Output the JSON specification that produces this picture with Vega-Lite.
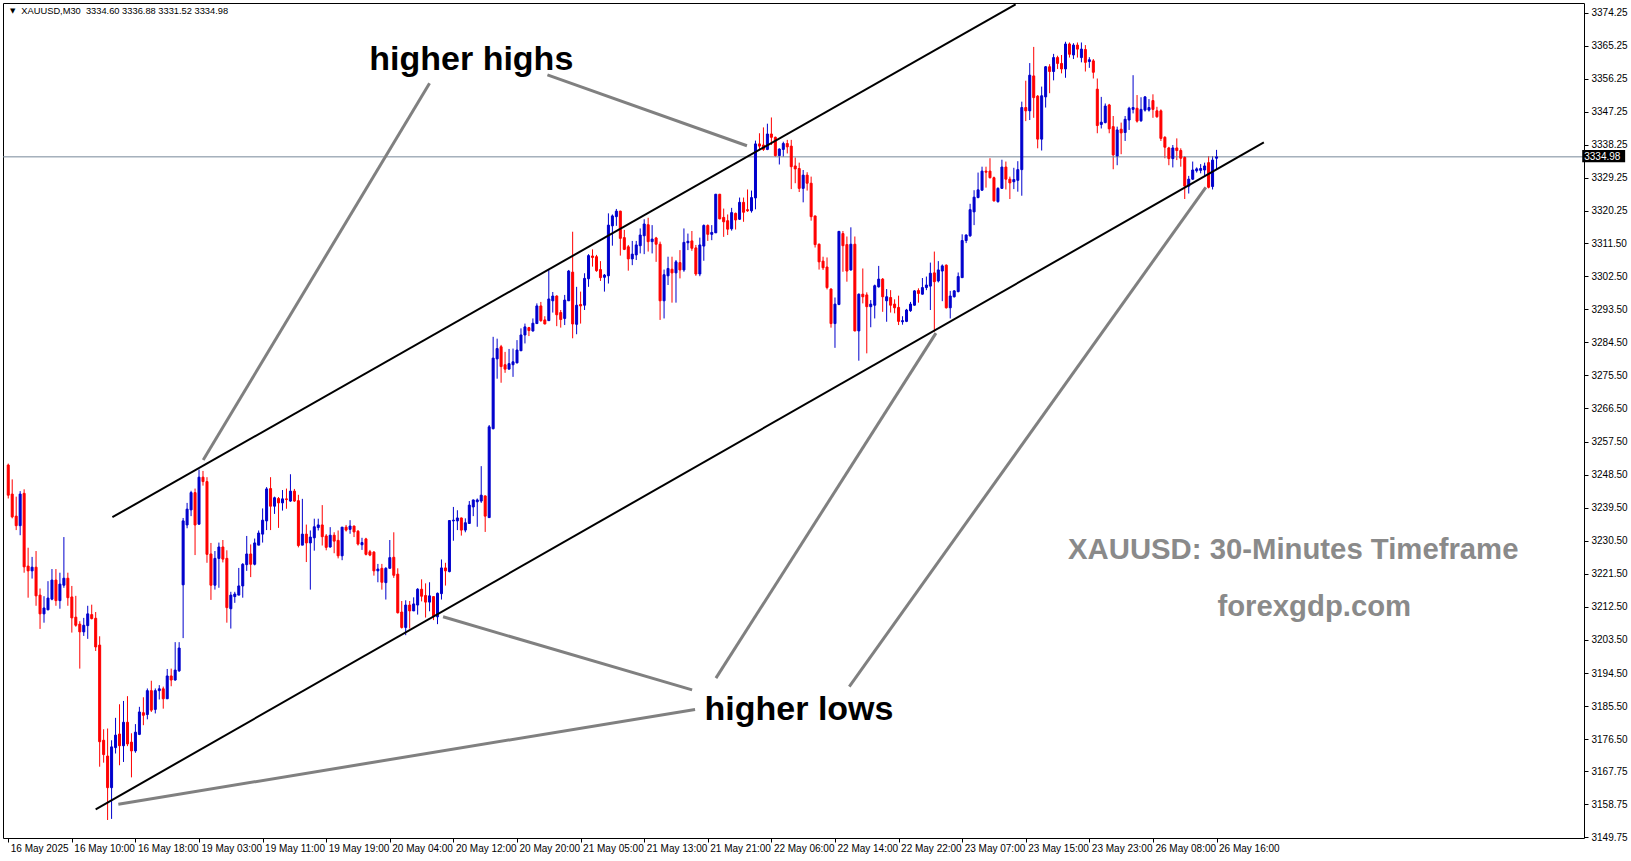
{
"$schema": "https://vega.github.io/schema/vega-lite/v6.json",
"width": 1581, "height": 835,
"autosize": {"type": "none"},
"padding": {"left": 3, "top": 3, "right": 47, "bottom": 23},
"background": "white",
"config": {
"view": {"stroke": "black", "strokeWidth": 1},
"axis": {"grid": false, "domain": false, "title": null, "labelOverlap": false, "labelBound": false, "labelFlush": false, "tickColor": "black", "tickSize": 4, "labelFont": "Liberation Sans", "labelFontSize": 10, "labelColor": "black"},
"axisY": {"labelOverlap": false, "labelPadding": 3, "labelSeparation": 0},
"axisX": {"labelOverlap": false, "labelPadding": 1}
},
"datasets": {
"candles": [
{"i":0,"o":3251.1,"h":3251.5,"l":3242.0,"c":3242.9},
{"i":1,"o":3243.2,"h":3247.2,"l":3236.6,"c":3237.0},
{"i":2,"o":3237.2,"h":3242.5,"l":3233.4,"c":3234.6},
{"i":3,"o":3234.6,"h":3244.0,"l":3232.0,"c":3243.2},
{"i":4,"o":3243.4,"h":3244.5,"l":3221.8,"c":3223.4},
{"i":5,"o":3223.6,"h":3228.6,"l":3215.0,"c":3222.3},
{"i":6,"o":3222.3,"h":3226.1,"l":3220.2,"c":3223.3},
{"i":7,"o":3223.3,"h":3227.7,"l":3212.8,"c":3215.5},
{"i":8,"o":3215.7,"h":3217.5,"l":3206.5,"c":3210.6},
{"i":9,"o":3210.6,"h":3215.4,"l":3208.2,"c":3212.2},
{"i":10,"o":3211.7,"h":3219.5,"l":3211.6,"c":3214.9},
{"i":11,"o":3214.6,"h":3222.8,"l":3214.3,"c":3219.8},
{"i":12,"o":3219.8,"h":3222.8,"l":3212.8,"c":3214.2},
{"i":13,"o":3214.2,"h":3221.8,"l":3212.0,"c":3218.7},
{"i":14,"o":3218.4,"h":3231.5,"l":3217.7,"c":3220.3},
{"i":15,"o":3220.3,"h":3221.8,"l":3212.8,"c":3215.0},
{"i":16,"o":3215.2,"h":3218.2,"l":3205.5,"c":3209.5},
{"i":17,"o":3209.7,"h":3215.5,"l":3207.1,"c":3207.5},
{"i":18,"o":3207.8,"h":3208.6,"l":3195.7,"c":3205.7},
{"i":19,"o":3205.7,"h":3209.5,"l":3204.6,"c":3207.5},
{"i":20,"o":3207.4,"h":3212.8,"l":3203.8,"c":3210.6},
{"i":21,"o":3210.4,"h":3213.1,"l":3209.1,"c":3209.3},
{"i":22,"o":3209.4,"h":3211.1,"l":3200.5,"c":3201.6},
{"i":23,"o":3202.1,"h":3204.5,"l":3169.0,"c":3175.8},
{"i":24,"o":3176.2,"h":3179.2,"l":3170.1,"c":3172.3},
{"i":25,"o":3171.9,"h":3179.4,"l":3154.5,"c":3163.3},
{"i":26,"o":3163.3,"h":3176.2,"l":3154.8,"c":3174.4},
{"i":27,"o":3174.2,"h":3182.3,"l":3172.6,"c":3177.6},
{"i":28,"o":3177.9,"h":3186.0,"l":3169.4,"c":3174.7},
{"i":29,"o":3174.7,"h":3186.9,"l":3170.3,"c":3181.1},
{"i":30,"o":3181.1,"h":3188.2,"l":3174.6,"c":3175.2},
{"i":31,"o":3175.7,"h":3178.1,"l":3166.1,"c":3173.3},
{"i":32,"o":3173.3,"h":3180.6,"l":3172.8,"c":3178.4},
{"i":33,"o":3177.8,"h":3185.3,"l":3177.6,"c":3183.9},
{"i":34,"o":3183.7,"h":3187.9,"l":3180.3,"c":3183.0},
{"i":35,"o":3183.2,"h":3190.3,"l":3181.9,"c":3189.7},
{"i":36,"o":3189.7,"h":3192.4,"l":3183.9,"c":3184.4},
{"i":37,"o":3184.6,"h":3190.3,"l":3183.5,"c":3189.7},
{"i":38,"o":3189.7,"h":3191.2,"l":3187.3,"c":3190.2},
{"i":39,"o":3190.2,"h":3190.8,"l":3184.8,"c":3187.5},
{"i":40,"o":3187.5,"h":3195.6,"l":3187.4,"c":3193.7},
{"i":41,"o":3193.7,"h":3195.7,"l":3190.9,"c":3192.6},
{"i":42,"o":3192.6,"h":3202.9,"l":3192.4,"c":3195.3},
{"i":43,"o":3195.1,"h":3202.9,"l":3194.8,"c":3201.3},
{"i":44,"o":3218.5,"h":3236.7,"l":3204.0,"c":3235.9},
{"i":45,"o":3234.8,"h":3240.8,"l":3233.9,"c":3239.1},
{"i":46,"o":3238.9,"h":3244.1,"l":3237.2,"c":3243.6},
{"i":47,"o":3243.6,"h":3244.7,"l":3226.6,"c":3234.8},
{"i":48,"o":3235.0,"h":3249.9,"l":3234.9,"c":3247.8},
{"i":49,"o":3247.8,"h":3249.5,"l":3245.5,"c":3246.6},
{"i":50,"o":3246.6,"h":3247.8,"l":3224.5,"c":3226.8},
{"i":51,"o":3226.9,"h":3229.9,"l":3214.4,"c":3218.4},
{"i":52,"o":3218.4,"h":3227.7,"l":3217.2,"c":3225.7},
{"i":53,"o":3225.7,"h":3230.0,"l":3217.7,"c":3228.8},
{"i":54,"o":3228.8,"h":3230.7,"l":3224.6,"c":3225.5},
{"i":55,"o":3225.7,"h":3227.9,"l":3208.2,"c":3212.3},
{"i":56,"o":3212.0,"h":3216.6,"l":3206.6,"c":3215.7},
{"i":57,"o":3215.3,"h":3216.6,"l":3213.6,"c":3216.0},
{"i":58,"o":3215.7,"h":3223.1,"l":3215.7,"c":3218.2},
{"i":59,"o":3218.2,"h":3224.4,"l":3215.0,"c":3224.1},
{"i":60,"o":3224.0,"h":3231.8,"l":3222.3,"c":3226.9},
{"i":61,"o":3226.9,"h":3229.5,"l":3220.6,"c":3224.1},
{"i":62,"o":3224.1,"h":3231.1,"l":3223.8,"c":3229.9},
{"i":63,"o":3229.3,"h":3233.3,"l":3229.3,"c":3232.6},
{"i":64,"o":3232.3,"h":3239.3,"l":3230.0,"c":3236.1},
{"i":65,"o":3235.9,"h":3245.1,"l":3233.4,"c":3244.6},
{"i":66,"o":3244.7,"h":3247.8,"l":3233.4,"c":3239.9},
{"i":67,"o":3239.9,"h":3242.5,"l":3237.8,"c":3242.2},
{"i":68,"o":3242.0,"h":3242.4,"l":3234.0,"c":3240.8},
{"i":69,"o":3240.8,"h":3244.3,"l":3238.7,"c":3241.9},
{"i":70,"o":3241.9,"h":3244.7,"l":3239.2,"c":3241.7},
{"i":71,"o":3241.3,"h":3248.6,"l":3241.1,"c":3244.0},
{"i":72,"o":3244.0,"h":3244.6,"l":3241.1,"c":3241.3},
{"i":73,"o":3241.4,"h":3243.0,"l":3228.7,"c":3229.2},
{"i":74,"o":3229.3,"h":3241.9,"l":3229.3,"c":3232.3},
{"i":75,"o":3232.3,"h":3234.9,"l":3224.7,"c":3229.9},
{"i":76,"o":3229.9,"h":3233.3,"l":3217.2,"c":3231.5},
{"i":77,"o":3231.3,"h":3236.5,"l":3227.8,"c":3234.3},
{"i":78,"o":3234.1,"h":3236.5,"l":3233.3,"c":3234.8},
{"i":79,"o":3234.8,"h":3240.2,"l":3229.2,"c":3231.6},
{"i":80,"o":3231.8,"h":3232.3,"l":3227.9,"c":3228.7},
{"i":81,"o":3228.8,"h":3234.2,"l":3228.6,"c":3232.0},
{"i":82,"o":3232.0,"h":3232.8,"l":3227.1,"c":3230.4},
{"i":83,"o":3230.6,"h":3233.3,"l":3225.7,"c":3226.4},
{"i":84,"o":3226.4,"h":3234.2,"l":3225.2,"c":3234.2},
{"i":85,"o":3234.2,"h":3234.8,"l":3233.0,"c":3233.4},
{"i":86,"o":3233.6,"h":3236.1,"l":3232.4,"c":3234.5},
{"i":87,"o":3234.5,"h":3234.6,"l":3231.5,"c":3232.9},
{"i":88,"o":3233.1,"h":3233.4,"l":3229.2,"c":3229.6},
{"i":89,"o":3229.4,"h":3231.3,"l":3228.0,"c":3230.0},
{"i":90,"o":3231.0,"h":3231.3,"l":3226.5,"c":3226.8},
{"i":91,"o":3227.5,"h":3228.0,"l":3226.3,"c":3226.6},
{"i":92,"o":3227.4,"h":3227.7,"l":3221.0,"c":3222.3},
{"i":93,"o":3222.3,"h":3224.2,"l":3219.2,"c":3222.8},
{"i":94,"o":3223.0,"h":3224.2,"l":3217.2,"c":3219.2},
{"i":95,"o":3219.1,"h":3223.3,"l":3214.5,"c":3223.0},
{"i":96,"o":3223.0,"h":3230.7,"l":3223.0,"c":3225.9},
{"i":97,"o":3226.0,"h":3232.8,"l":3220.4,"c":3221.1},
{"i":98,"o":3221.4,"h":3223.0,"l":3210.7,"c":3210.9},
{"i":99,"o":3211.1,"h":3214.1,"l":3206.6,"c":3206.9},
{"i":100,"o":3206.9,"h":3214.3,"l":3204.8,"c":3213.0},
{"i":101,"o":3213.0,"h":3214.1,"l":3206.6,"c":3211.4},
{"i":102,"o":3211.4,"h":3215.1,"l":3211.4,"c":3213.3},
{"i":103,"o":3213.0,"h":3217.6,"l":3210.4,"c":3217.3},
{"i":104,"o":3217.3,"h":3220.0,"l":3214.0,"c":3215.4},
{"i":105,"o":3215.6,"h":3218.9,"l":3209.6,"c":3213.8},
{"i":106,"o":3213.8,"h":3219.2,"l":3211.3,"c":3215.5},
{"i":107,"o":3215.3,"h":3215.4,"l":3208.9,"c":3210.0},
{"i":108,"o":3209.8,"h":3216.4,"l":3207.8,"c":3216.2},
{"i":109,"o":3216.1,"h":3225.4,"l":3214.5,"c":3223.1},
{"i":110,"o":3223.1,"h":3224.5,"l":3218.3,"c":3222.3},
{"i":111,"o":3222.1,"h":3236.1,"l":3221.9,"c":3236.0},
{"i":112,"o":3235.9,"h":3239.7,"l":3230.5,"c":3236.1},
{"i":113,"o":3235.9,"h":3238.8,"l":3233.4,"c":3236.7},
{"i":114,"o":3236.7,"h":3236.8,"l":3231.9,"c":3233.4},
{"i":115,"o":3233.4,"h":3236.6,"l":3232.8,"c":3235.4},
{"i":116,"o":3235.2,"h":3241.3,"l":3235.2,"c":3240.2},
{"i":117,"o":3239.7,"h":3241.7,"l":3237.2,"c":3241.6},
{"i":118,"o":3241.1,"h":3242.0,"l":3234.3,"c":3241.6},
{"i":119,"o":3241.3,"h":3250.8,"l":3240.8,"c":3242.9},
{"i":120,"o":3242.7,"h":3242.8,"l":3232.9,"c":3237.2},
{"i":121,"o":3236.8,"h":3262.0,"l":3236.8,"c":3261.5},
{"i":122,"o":3261.0,"h":3286.0,"l":3260.8,"c":3280.2},
{"i":123,"o":3280.0,"h":3285.5,"l":3274.6,"c":3282.8},
{"i":124,"o":3283.3,"h":3283.8,"l":3273.5,"c":3277.9},
{"i":125,"o":3278.4,"h":3281.9,"l":3276.2,"c":3277.2},
{"i":126,"o":3277.2,"h":3282.7,"l":3277.2,"c":3278.7},
{"i":127,"o":3278.4,"h":3282.8,"l":3275.1,"c":3279.2},
{"i":128,"o":3278.9,"h":3285.1,"l":3278.8,"c":3282.4},
{"i":129,"o":3282.2,"h":3288.3,"l":3282.2,"c":3286.5},
{"i":130,"o":3286.5,"h":3289.6,"l":3284.2,"c":3288.7},
{"i":131,"o":3288.5,"h":3288.7,"l":3286.2,"c":3287.7},
{"i":132,"o":3287.6,"h":3291.0,"l":3287.4,"c":3289.7},
{"i":133,"o":3289.6,"h":3295.1,"l":3289.5,"c":3294.4},
{"i":134,"o":3294.4,"h":3295.5,"l":3290.1,"c":3290.4},
{"i":135,"o":3290.6,"h":3291.6,"l":3289.4,"c":3289.5},
{"i":136,"o":3290.4,"h":3304.3,"l":3290.3,"c":3296.3},
{"i":137,"o":3295.8,"h":3298.2,"l":3292.6,"c":3297.1},
{"i":138,"o":3297.1,"h":3297.3,"l":3288.9,"c":3292.0},
{"i":139,"o":3292.6,"h":3293.3,"l":3288.5,"c":3290.7},
{"i":140,"o":3291.0,"h":3297.4,"l":3289.2,"c":3296.0},
{"i":141,"o":3295.8,"h":3304.2,"l":3295.8,"c":3303.9},
{"i":142,"o":3303.6,"h":3314.6,"l":3285.6,"c":3289.5},
{"i":143,"o":3289.4,"h":3299.6,"l":3286.7,"c":3294.6},
{"i":144,"o":3294.8,"h":3298.3,"l":3289.6,"c":3294.4},
{"i":145,"o":3294.6,"h":3303.3,"l":3293.3,"c":3301.9},
{"i":146,"o":3301.8,"h":3308.5,"l":3299.6,"c":3308.1},
{"i":147,"o":3308.0,"h":3309.8,"l":3305.1,"c":3307.6},
{"i":148,"o":3307.8,"h":3308.3,"l":3303.7,"c":3304.0},
{"i":149,"o":3304.3,"h":3306.6,"l":3301.2,"c":3302.1},
{"i":150,"o":3302.2,"h":3303.1,"l":3298.3,"c":3302.8},
{"i":151,"o":3302.6,"h":3319.6,"l":3300.5,"c":3316.4},
{"i":152,"o":3316.2,"h":3319.3,"l":3310.8,"c":3318.9},
{"i":153,"o":3318.7,"h":3320.8,"l":3316.2,"c":3320.2},
{"i":154,"o":3320.2,"h":3320.3,"l":3308.1,"c":3312.8},
{"i":155,"o":3313.0,"h":3315.1,"l":3309.6,"c":3309.8},
{"i":156,"o":3310.5,"h":3311.0,"l":3304.0,"c":3307.2},
{"i":157,"o":3307.2,"h":3312.1,"l":3305.5,"c":3308.5},
{"i":158,"o":3308.3,"h":3312.1,"l":3306.9,"c":3311.0},
{"i":159,"o":3310.8,"h":3315.5,"l":3308.7,"c":3313.7},
{"i":160,"o":3313.5,"h":3318.0,"l":3308.5,"c":3316.7},
{"i":161,"o":3316.5,"h":3318.4,"l":3309.2,"c":3311.9},
{"i":162,"o":3311.9,"h":3316.4,"l":3308.7,"c":3312.6},
{"i":163,"o":3312.9,"h":3313.2,"l":3306.4,"c":3311.2},
{"i":164,"o":3311.2,"h":3311.9,"l":3290.6,"c":3295.8},
{"i":165,"o":3295.8,"h":3304.3,"l":3291.0,"c":3302.9},
{"i":166,"o":3302.6,"h":3307.8,"l":3300.1,"c":3304.6},
{"i":167,"o":3304.4,"h":3307.8,"l":3295.3,"c":3303.4},
{"i":168,"o":3303.4,"h":3306.9,"l":3295.3,"c":3306.4},
{"i":169,"o":3306.2,"h":3309.6,"l":3301.9,"c":3304.2},
{"i":170,"o":3304.2,"h":3315.5,"l":3303.7,"c":3311.7},
{"i":171,"o":3311.6,"h":3314.1,"l":3309.6,"c":3312.0},
{"i":172,"o":3312.1,"h":3314.8,"l":3309.4,"c":3310.1},
{"i":173,"o":3310.2,"h":3311.0,"l":3302.6,"c":3303.1},
{"i":174,"o":3303.1,"h":3313.0,"l":3302.5,"c":3311.0},
{"i":175,"o":3310.7,"h":3316.6,"l":3306.7,"c":3316.3},
{"i":176,"o":3316.3,"h":3316.6,"l":3312.1,"c":3313.9},
{"i":177,"o":3313.9,"h":3316.4,"l":3312.3,"c":3314.4},
{"i":178,"o":3314.3,"h":3324.9,"l":3314.3,"c":3324.8},
{"i":179,"o":3324.8,"h":3324.9,"l":3318.0,"c":3318.1},
{"i":180,"o":3318.5,"h":3320.9,"l":3313.2,"c":3317.3},
{"i":181,"o":3317.6,"h":3319.3,"l":3313.7,"c":3315.3},
{"i":182,"o":3315.4,"h":3321.1,"l":3314.9,"c":3319.8},
{"i":183,"o":3319.6,"h":3319.8,"l":3315.2,"c":3317.8},
{"i":184,"o":3318.0,"h":3323.9,"l":3317.8,"c":3322.6},
{"i":185,"o":3322.6,"h":3323.9,"l":3317.3,"c":3319.9},
{"i":186,"o":3320.6,"h":3326.1,"l":3320.0,"c":3320.3},
{"i":187,"o":3320.3,"h":3325.8,"l":3319.8,"c":3323.9},
{"i":188,"o":3323.8,"h":3339.4,"l":3320.7,"c":3338.5},
{"i":189,"o":3338.5,"h":3341.4,"l":3337.0,"c":3337.9},
{"i":190,"o":3338.2,"h":3343.0,"l":3336.6,"c":3337.0},
{"i":191,"o":3337.0,"h":3344.0,"l":3336.8,"c":3341.2},
{"i":192,"o":3341.2,"h":3345.7,"l":3338.2,"c":3340.3},
{"i":193,"o":3340.3,"h":3340.5,"l":3335.0,"c":3335.3},
{"i":194,"o":3335.3,"h":3337.3,"l":3332.9,"c":3337.1},
{"i":195,"o":3337.0,"h":3339.1,"l":3335.0,"c":3338.6},
{"i":196,"o":3338.6,"h":3339.6,"l":3335.9,"c":3337.7},
{"i":197,"o":3337.9,"h":3339.6,"l":3326.2,"c":3332.3},
{"i":198,"o":3332.5,"h":3334.8,"l":3327.8,"c":3331.7},
{"i":199,"o":3331.8,"h":3333.4,"l":3325.4,"c":3326.4},
{"i":200,"o":3326.4,"h":3331.4,"l":3322.6,"c":3330.0},
{"i":201,"o":3330.0,"h":3330.8,"l":3325.8,"c":3327.8},
{"i":202,"o":3327.8,"h":3329.6,"l":3317.6,"c":3318.7},
{"i":203,"o":3318.9,"h":3318.9,"l":3310.3,"c":3311.1},
{"i":204,"o":3311.2,"h":3311.4,"l":3304.3,"c":3306.4},
{"i":205,"o":3306.6,"h":3307.8,"l":3304.2,"c":3304.8},
{"i":206,"o":3305.0,"h":3307.6,"l":3298.9,"c":3299.4},
{"i":207,"o":3299.0,"h":3299.2,"l":3288.5,"c":3289.6},
{"i":208,"o":3289.6,"h":3296.7,"l":3283.0,"c":3294.9},
{"i":209,"o":3294.8,"h":3314.8,"l":3294.6,"c":3314.7},
{"i":210,"o":3314.1,"h":3314.8,"l":3303.7,"c":3310.8},
{"i":211,"o":3311.1,"h":3313.3,"l":3301.0,"c":3303.9},
{"i":212,"o":3304.2,"h":3315.8,"l":3304.0,"c":3311.2},
{"i":213,"o":3311.2,"h":3313.3,"l":3287.5,"c":3287.6},
{"i":214,"o":3287.6,"h":3297.8,"l":3279.5,"c":3297.6},
{"i":215,"o":3297.6,"h":3304.6,"l":3295.1,"c":3296.9},
{"i":216,"o":3297.4,"h":3298.1,"l":3281.5,"c":3294.2},
{"i":217,"o":3294.2,"h":3296.0,"l":3288.6,"c":3294.9},
{"i":218,"o":3294.6,"h":3300.2,"l":3291.0,"c":3299.9},
{"i":219,"o":3299.6,"h":3305.3,"l":3299.4,"c":3301.7},
{"i":220,"o":3301.7,"h":3302.0,"l":3292.8,"c":3296.9},
{"i":221,"o":3295.8,"h":3299.0,"l":3290.1,"c":3296.9},
{"i":222,"o":3296.7,"h":3298.7,"l":3292.6,"c":3294.6},
{"i":223,"o":3294.9,"h":3296.2,"l":3292.4,"c":3293.9},
{"i":224,"o":3294.0,"h":3297.2,"l":3289.2,"c":3290.2},
{"i":225,"o":3290.1,"h":3291.6,"l":3289.3,"c":3290.4},
{"i":226,"o":3290.2,"h":3293.6,"l":3290.0,"c":3293.3},
{"i":227,"o":3293.1,"h":3295.5,"l":3292.8,"c":3294.9},
{"i":228,"o":3294.6,"h":3298.7,"l":3294.5,"c":3298.5},
{"i":229,"o":3298.6,"h":3299.2,"l":3295.3,"c":3297.8},
{"i":230,"o":3297.6,"h":3302.0,"l":3297.5,"c":3299.4},
{"i":231,"o":3299.4,"h":3302.4,"l":3298.7,"c":3300.1},
{"i":232,"o":3299.8,"h":3306.2,"l":3293.3,"c":3303.3},
{"i":233,"o":3303.4,"h":3309.2,"l":3287.4,"c":3301.0},
{"i":234,"o":3301.2,"h":3306.6,"l":3300.8,"c":3304.2},
{"i":235,"o":3303.9,"h":3305.7,"l":3295.7,"c":3305.3},
{"i":236,"o":3305.5,"h":3305.7,"l":3293.7,"c":3293.9},
{"i":237,"o":3293.9,"h":3298.5,"l":3291.0,"c":3297.1},
{"i":238,"o":3296.9,"h":3298.7,"l":3296.7,"c":3298.5},
{"i":239,"o":3298.3,"h":3303.5,"l":3298.1,"c":3302.4},
{"i":240,"o":3302.1,"h":3313.9,"l":3302.1,"c":3312.2},
{"i":241,"o":3312.2,"h":3313.9,"l":3311.5,"c":3313.7},
{"i":242,"o":3313.5,"h":3322.2,"l":3313.2,"c":3320.6},
{"i":243,"o":3320.0,"h":3325.9,"l":3316.4,"c":3324.0},
{"i":244,"o":3323.9,"h":3330.7,"l":3323.7,"c":3326.0},
{"i":245,"o":3325.9,"h":3332.3,"l":3325.8,"c":3331.1},
{"i":246,"o":3331.1,"h":3332.3,"l":3326.6,"c":3330.8},
{"i":247,"o":3331.1,"h":3334.6,"l":3329.1,"c":3329.3},
{"i":248,"o":3329.3,"h":3329.6,"l":3322.8,"c":3323.0},
{"i":249,"o":3322.8,"h":3326.7,"l":3322.5,"c":3326.4},
{"i":250,"o":3326.4,"h":3334.2,"l":3326.3,"c":3332.2},
{"i":251,"o":3332.2,"h":3333.7,"l":3326.1,"c":3328.9},
{"i":252,"o":3328.9,"h":3329.6,"l":3323.5,"c":3327.9},
{"i":253,"o":3328.2,"h":3332.0,"l":3326.2,"c":3328.8},
{"i":254,"o":3328.6,"h":3333.8,"l":3325.5,"c":3331.5},
{"i":255,"o":3331.5,"h":3350.0,"l":3324.4,"c":3348.4},
{"i":256,"o":3348.4,"h":3355.7,"l":3344.7,"c":3347.5},
{"i":257,"o":3347.5,"h":3360.5,"l":3345.0,"c":3357.2},
{"i":258,"o":3357.0,"h":3364.9,"l":3345.6,"c":3351.1},
{"i":259,"o":3351.5,"h":3351.8,"l":3337.3,"c":3339.8},
{"i":260,"o":3339.8,"h":3354.1,"l":3336.7,"c":3351.6},
{"i":261,"o":3351.3,"h":3359.7,"l":3348.4,"c":3359.5},
{"i":262,"o":3359.5,"h":3360.2,"l":3352.3,"c":3358.2},
{"i":263,"o":3358.2,"h":3363.0,"l":3355.8,"c":3362.0},
{"i":264,"o":3362.0,"h":3362.5,"l":3358.9,"c":3360.4},
{"i":265,"o":3360.4,"h":3362.7,"l":3357.7,"c":3358.9},
{"i":266,"o":3358.9,"h":3366.3,"l":3356.5,"c":3365.7},
{"i":267,"o":3365.7,"h":3366.1,"l":3362.0,"c":3362.9},
{"i":268,"o":3362.7,"h":3365.9,"l":3361.6,"c":3365.4},
{"i":269,"o":3365.4,"h":3366.1,"l":3362.0,"c":3364.3},
{"i":270,"o":3362.0,"h":3366.1,"l":3360.7,"c":3364.3},
{"i":271,"o":3364.2,"h":3365.4,"l":3358.2,"c":3360.7},
{"i":272,"o":3360.9,"h":3362.1,"l":3359.2,"c":3361.4},
{"i":273,"o":3361.1,"h":3361.6,"l":3356.3,"c":3358.0},
{"i":274,"o":3353.4,"h":3356.3,"l":3341.4,"c":3343.5},
{"i":275,"o":3343.8,"h":3351.3,"l":3342.7,"c":3344.4},
{"i":276,"o":3344.3,"h":3349.5,"l":3344.1,"c":3348.8},
{"i":277,"o":3349.1,"h":3349.4,"l":3341.4,"c":3342.6},
{"i":278,"o":3343.2,"h":3346.1,"l":3331.6,"c":3335.5},
{"i":279,"o":3335.2,"h":3343.2,"l":3332.7,"c":3342.3},
{"i":280,"o":3342.5,"h":3344.3,"l":3335.7,"c":3341.5},
{"i":281,"o":3341.6,"h":3346.1,"l":3339.3,"c":3345.2},
{"i":282,"o":3345.0,"h":3348.6,"l":3342.3,"c":3348.2},
{"i":283,"o":3347.9,"h":3357.2,"l":3346.8,"c":3348.4},
{"i":284,"o":3348.2,"h":3351.8,"l":3344.3,"c":3344.7},
{"i":285,"o":3344.8,"h":3351.2,"l":3344.5,"c":3347.9},
{"i":286,"o":3347.7,"h":3351.5,"l":3347.3,"c":3351.3},
{"i":287,"o":3347.7,"h":3350.7,"l":3347.3,"c":3348.4},
{"i":288,"o":3350.3,"h":3352.0,"l":3345.6,"c":3347.9},
{"i":289,"o":3347.5,"h":3348.6,"l":3345.6,"c":3345.9},
{"i":290,"o":3347.5,"h":3347.9,"l":3339.3,"c":3340.0},
{"i":291,"o":3340.3,"h":3340.6,"l":3334.6,"c":3337.6},
{"i":292,"o":3337.4,"h":3337.7,"l":3332.7,"c":3334.5},
{"i":293,"o":3334.5,"h":3338.2,"l":3332.1,"c":3337.4},
{"i":294,"o":3337.4,"h":3340.0,"l":3334.1,"c":3336.7},
{"i":295,"o":3336.7,"h":3337.3,"l":3332.3,"c":3334.6},
{"i":296,"o":3334.8,"h":3335.2,"l":3323.5,"c":3327.0},
{"i":297,"o":3327.0,"h":3329.8,"l":3325.0,"c":3328.9},
{"i":298,"o":3328.9,"h":3333.7,"l":3328.7,"c":3331.4},
{"i":299,"o":3331.2,"h":3332.1,"l":3330.7,"c":3331.7},
{"i":300,"o":3331.3,"h":3333.0,"l":3330.5,"c":3331.8},
{"i":301,"o":3331.4,"h":3333.4,"l":3329.8,"c":3332.5},
{"i":302,"o":3333.4,"h":3335.2,"l":3326.4,"c":3326.7},
{"i":303,"o":3326.9,"h":3335.2,"l":3326.1,"c":3334.1},
{"i":304,"o":3334.6,"h":3336.88,"l":3331.52,"c":3334.98}
],
"channels": [
{"id":"upper","i":26.2,"p":3236.9},{"id":"upper","i":253.45,"p":3376.5},
{"id":"lower","i":22.0,"p":3157.4},{"id":"lower","i":315.9,"p":3338.9}
],
"pointers": [
{"id":"a","i":106.0,"p":3355.0},{"id":"a","i":49.05,"p":3252.5},
{"id":"b","i":135.65,"p":3357.3},{"id":"b","i":185.85,"p":3338.0},
{"id":"c","i":109.4,"p":3209.8},{"id":"c","i":172.05,"p":3189.9},
{"id":"d","i":27.7,"p":3158.8},{"id":"d","i":172.8,"p":3184.6},
{"id":"e","i":178.05,"p":3193.1},{"id":"e","i":233.4,"p":3287.0},
{"id":"f","i":211.6,"p":3190.8},{"id":"f","i":301.3,"p":3326.7}
]
},
"layer": [
{
"data": {"name": "candles"},
"mark": {"type": "rule", "strokeWidth": 1},
"encoding": {
"x": {"field": "i", "type": "quantitative", "title": null, "scale": {"domain": [-0.06, 395.19], "nice": false, "zero": false},
"axis": {"values": [0,16,32,48,64,80,96,112,128,144,160,176,192,208,224,240,256,272,288,304], "tickCount": 100,
"labelExpr": "['16 May 2025','16 May 10:00','16 May 18:00','19 May 03:00','19 May 11:00','19 May 19:00','20 May 04:00','20 May 12:00','20 May 20:00','21 May 05:00','21 May 13:00','21 May 21:00','22 May 06:00','22 May 14:00','22 May 22:00','23 May 07:00','23 May 15:00','23 May 23:00','26 May 08:00','26 May 16:00'][round(datum.value/16)]",
"labelAlign": "left", "labelBaseline": "top", "labelOffset": 2, "labelOverlap": false}},
"y": {"field": "l", "type": "quantitative", "title": null, "scale": {"domain": [3149.6, 3376.85], "nice": false, "zero": false},
"axis": {"orient": "right", "tickCount": 100,
"values": [3374.25,3365.25,3356.25,3347.25,3338.25,3329.25,3320.25,3311.5,3302.5,3293.5,3284.5,3275.5,3266.5,3257.5,3248.5,3239.5,3230.5,3221.5,3212.5,3203.5,3194.5,3185.5,3176.5,3167.75,3158.75,3149.75],
"format": ".2f", "labelOverlap": false}},
"y2": {"field": "h"},
"color": {"condition": {"test": "datum.c >= datum.o", "value": "#0000cd"}, "value": "#ff0000"}
}
},
{
"data": {"values": [{"p": 3334.98}]},
"mark": {"type": "rule", "color": "#778899", "strokeWidth": 1},
"encoding": {
"y": {"field": "p", "type": "quantitative", "title": null}
}
},
{
"data": {"name": "candles"},
"mark": {"type": "bar", "width": 2, "strokeWidth": 1},
"encoding": {
"x": {"field": "i", "type": "quantitative", "title": null},
"y": {"field": "o", "type": "quantitative", "title": null},
"y2": {"field": "c"},
"fill": {"condition": {"test": "datum.c >= datum.o", "value": "#0000cd"}, "value": "#ff0000"},
"stroke": {"condition": {"test": "datum.c >= datum.o", "value": "#0000cd"}, "value": "#ff0000"}
}
},
{
"data": {"name": "channels"},
"mark": {"type": "line", "color": "black", "strokeWidth": 2, "clip": true},
"encoding": {
"x": {"field": "i", "type": "quantitative", "title": null},
"y": {"field": "p", "type": "quantitative", "title": null},
"detail": {"field": "id"}
}
},
{
"data": {"name": "pointers"},
"mark": {"type": "line", "color": "#808080", "strokeWidth": 3},
"encoding": {
"x": {"field": "i", "type": "quantitative", "title": null},
"y": {"field": "p", "type": "quantitative", "title": null},
"detail": {"field": "id"}
}
},
{
"data": {"values": [{"t": "higher highs", "i": 116.5, "p": 3361.4}, {"t": "higher lows", "i": 198.95, "p": 3184.3}]},
"mark": {"type": "text", "font": "Liberation Sans", "fontWeight": "bold", "fontSize": 34, "color": "black", "align": "center", "baseline": "middle"},
"encoding": {
"x": {"field": "i", "type": "quantitative", "title": null},
"y": {"field": "p", "type": "quantitative", "title": null},
"text": {"field": "t"}
}
},
{
"data": {"values": [{"t": "XAUUSD: 30-Minutes Timeframe", "i": 323.3, "p": 3227.9}, {"t": "forexgdp.com", "i": 328.6, "p": 3212.6}]},
"mark": {"type": "text", "font": "Liberation Sans", "fontWeight": "bold", "fontSize": 29.3, "color": "#8a8a8a", "align": "center", "baseline": "middle"},
"encoding": {
"x": {"field": "i", "type": "quantitative", "title": null},
"y": {"field": "p", "type": "quantitative", "title": null},
"text": {"field": "t"}
}
},
{
"data": {"values": [{"t": "XAUUSD,M30\u00a0\u00a03334.60 3336.88 3331.52 3334.98"}]},
"mark": {"type": "text", "font": "Liberation Sans", "fontSize": 9.3, "color": "black", "align": "left", "baseline": "middle"},
"encoding": {
"x": {"datum": 3.3, "type": "quantitative"},
"y": {"datum": 3374.66, "type": "quantitative"},
"text": {"field": "t"}
}
},
{
"data": {"values": [{"t": "\u25bc"}]},
"mark": {"type": "text", "font": "DejaVu Sans", "fontSize": 7, "color": "black", "align": "center", "baseline": "middle"},
"encoding": {
"x": {"datum": 1.1, "type": "quantitative"},
"y": {"datum": 3374.66, "type": "quantitative"},
"text": {"field": "t"}
}
},
{
"data": {"values": [{"p": 3334.98}]},
"mark": {"type": "rect", "color": "black"},
"encoding": {
"x": {"datum": 396.0, "type": "quantitative"},
"x2": {"datum": 406.8},
"y": {"datum": 3336.85, "type": "quantitative"},
"y2": {"datum": 3333.5}
}
},
{
"data": {"values": [{"p": 3334.98}]},
"mark": {"type": "text", "font": "Liberation Sans", "fontSize": 10, "color": "white", "align": "left", "baseline": "middle"},
"encoding": {
"x": {"datum": 396.5, "type": "quantitative"},
"y": {"field": "p", "type": "quantitative", "title": null},
"text": {"field": "p", "type": "quantitative", "format": ".2f"}
}
}
]
}
